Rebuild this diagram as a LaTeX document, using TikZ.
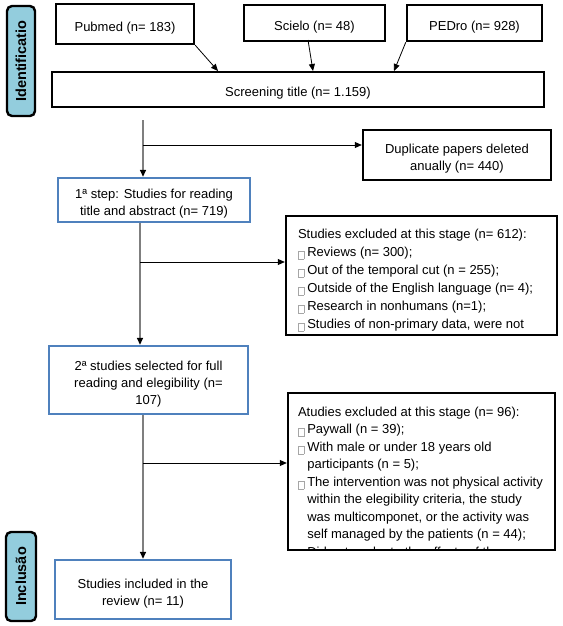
\documentclass[tikz,border=0pt]{standalone}
\usepackage{fontspec}
\setmainfont{Liberation Sans}
\usetikzlibrary{arrows.meta,positioning}

\definecolor{stepblue}{HTML}{4F81BD}
\definecolor{tabfill}{HTML}{93CDDD}
\definecolor{linegray}{HTML}{7F7F7F}

% the empty glyph box in front of each item
\newcommand{\glyphbox}{\raisebox{-2.5pt}{\color{black!35}\fboxsep=0pt\fboxrule=0.4pt\fbox{\phantom{\rule{5.5pt}{8pt}}}}\hspace{3pt}}
\newcommand{\hangin}{\phantom{\glyphbox}}
% pushes the text of a box a little down
\newcommand{\lift}{\rule{0pt}{17.5pt}}

\tikzset{
  base/.style = {font=\fontsize{13}{17}\selectfont, inner sep=0pt, align=center},
  blackbox/.style = {base, draw=black, line width=2.4pt},
  bluebox/.style = {base, draw=stepblue, line width=2.4pt},
  listtext/.style = {font=\fontsize{13}{18}\selectfont, inner sep=0pt, align=left, anchor=north west},
  tab/.style = {draw=black, line width=2.4pt, fill=tabfill, rounded corners=5pt, rotate=90,
    font=\fontsize{14.5}{17}\selectfont\bfseries, inner sep=0pt},
  tip/.style = {-{Triangle[length=7pt,width=6pt,color=black]}},
  flow/.style = {tip, draw=linegray, line width=1.4pt},
  branch/.style = {tip, draw=black, line width=0.8pt}
}

\begin{document}
\begin{tikzpicture}[x=1pt, y=-1pt]
\useasboundingbox (0, 0) rectangle (562, 626);

% side tabs
\node[tab, minimum width=110, minimum height=28] (tabid) at (21, 61) {Identificatio};
\node[tab, minimum width=89, minimum height=30] (tabinc) at (21, 576.5) {Inclusão};

% sources
\node[blackbox, minimum width=138, minimum height=40] (pubmed) at (125, 24) {\lift Pubmed (n= 183)};
\node[blackbox, minimum width=141, minimum height=36] (scielo) at (314.5, 23) {\lift Scielo (n= 48)};
\node[blackbox, minimum width=135, minimum height=36] (pedro) at (474.5, 23) {\lift PEDro (n= 928)};
\node[blackbox, minimum width=492, minimum height=35] (screen) at (298, 89.5) {\lift Screening title (n= 1.159)};

\coordinate (src2) at (308, 40);
\coordinate (pin1) at (218, 71);
\coordinate (pin2) at (313, 71);
\coordinate (pin3) at (394, 71);
\draw[branch] (pubmed.south east) -- (pin1);
\draw[branch] (src2) -- (pin2);
\draw[branch] (pedro.south west) -- (pin3);

\node[blackbox, minimum width=188, minimum height=50] (dup) at (457, 155) {\lift Duplicate papers deleted\\anually (n= 440)};
\node[bluebox, minimum width=192, minimum height=44] (step1) at (154, 200) {\lift 1ª step: Studies for reading\\title and abstract (n= 719)};
\node[bluebox, minimum width=199, minimum height=68] (step2) at (148.5, 380) {\lift 2ª studies selected for full\\reading and elegibility (n=\\107)};
\node[bluebox, minimum width=176, minimum height=59] (incl) at (143, 589.5) {\lift Studies included in the\\review (n= 11)};

% exclusion boxes
\node[blackbox, minimum width=271, minimum height=119] (excl1) at (421.5, 275.5) {};
\node[blackbox, minimum width=267, minimum height=157] (excl2) at (421.5, 471.5) {};

\node[listtext] (list1) at ([xshift=13pt, yshift=-14pt]excl1.north west)
  {Studies excluded at this stage (n= 612):\\
   \glyphbox Reviews (n= 300);\\
   \glyphbox Out of the temporal cut (n = 255);\\
   \glyphbox Outside of the English language (n= 4);\\
   \glyphbox Research in nonhumans (n=1);\\
   \glyphbox Studies of non-primary data, were not};

\begin{scope}
\clip ([xshift=1.2pt, yshift=-1.2pt]excl2.north west) rectangle ([xshift=-1.2pt, yshift=1.2pt]excl2.south east);
\node[listtext, font=\fontsize{13}{17.5}\selectfont] (list2) at ([xshift=11pt, yshift=-15pt]excl2.north west)
  {Atudies excluded at this stage (n= 96):\\
   \glyphbox Paywall (n = 39);\\
   \glyphbox With male or under 18 years old\\
   \hangin participants (n = 5);\\
   \glyphbox The intervention was not physical activity\\
   \hangin within the elegibility criteria, the study\\
   \hangin was multicomponet, or the activity was\\
   \hangin self managed by the patients (n = 44);\\
   \glyphbox Did not evaluete the effects of the};
\end{scope}

% flow down the left
\coordinate (top1) at (143, 120);
\coordinate (br1) at (143, 145);
\coordinate (br2) at (140, 262);
\coordinate (br3) at (143, 463);
\draw[flow] (top1) -- (top1 |- step1.north);
\draw[branch] (br1) -- (br1 -| dup.west);
\draw[flow] (br2 |- step1.south) -- (br2 |- step2.north);
\draw[branch] (br2) -- (br2 -| excl1.west);
\draw[flow] (br3 |- step2.south) -- (br3 |- incl.north);
\draw[branch] (br3) -- (br3 -| excl2.west);
\end{tikzpicture}
\end{document}
